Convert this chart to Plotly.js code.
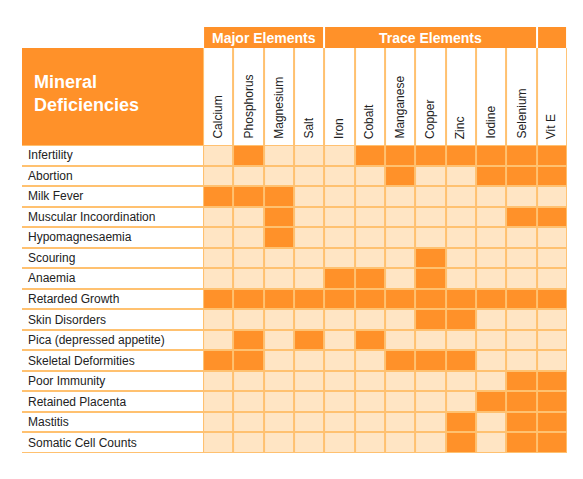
<!DOCTYPE html>
<html>
<head>
<meta charset="utf-8">
<script src="https://cdn.plot.ly/plotly-3.0.1.min.js"></script>
<style>html,body{margin:0;padding:0;background:#fff;}#chart{width:583px;height:479px;}</style>
</head>
<body>
<div id="chart"></div>
<script>
// ---- data ----
const columns = ['Calcium','Phosphorus','Magnesium','Salt','Iron','Cobalt','Manganese','Copper','Zinc','Iodine','Selenium','Vit E'];
const groups = ['Major Elements','Trace Elements',''];
const groupSpans = [4, 7, 1];
const rows = ['Infertility','Abortion','Milk Fever','Muscular Incoordination','Hypomagnesaemia','Scouring','Anaemia','Retarded Growth','Skin Disorders','Pica (depressed appetite)','Skeletal Deformities','Poor Immunity','Retained Placenta','Mastitis','Somatic Cell Counts'];
const title = 'Mineral<br>Deficiencies';
const infertility        = [0,1,0,0,0,1,1,1,1,1,1,1];
const abortion           = [0,0,0,0,0,0,1,0,0,1,1,1];
const milkFever          = [1,1,1,0,0,0,0,0,0,0,0,0];
const muscularIncoord    = [0,0,1,0,0,0,0,0,0,0,1,1];
const hypomagnesaemia    = [0,0,1,0,0,0,0,0,0,0,0,0];
const scouring           = [0,0,0,0,0,0,0,1,0,0,0,0];
const anaemia            = [0,0,0,0,1,1,0,1,0,0,0,0];
const retardedGrowth     = [1,1,1,1,1,1,1,1,1,1,1,1];
const skinDisorders      = [0,0,0,0,0,0,0,1,1,0,0,0];
const pica               = [0,1,0,1,0,1,0,0,0,0,0,0];
const skeletalDeform     = [1,1,0,0,0,0,1,1,1,0,0,0];
const poorImmunity       = [0,0,0,0,0,0,0,0,0,0,1,1];
const retainedPlacenta   = [0,0,0,0,0,0,0,0,0,1,1,1];
const mastitis           = [0,0,0,0,0,0,0,0,1,0,1,1];
const somaticCellCounts  = [0,0,0,0,0,0,0,0,1,0,1,1];
const matrix = [infertility,abortion,milkFever,muscularIncoord,hypomagnesaemia,scouring,anaemia,retardedGrowth,skinDisorders,pica,skeletalDeform,poorImmunity,retainedPlacenta,mastitis,somaticCellCounts];

// ---- styling ----
const ORANGE = '#FF9129', LIGHT = '#FFE5C4', BORDER = '#FFC170', WHITE = '#FFFFFF';
const FONT = 'Liberation Sans, Arial, sans-serif';
const nC = columns.length, nR = rows.length;
const LABEL_L = -6.47;            // left edge of label column (x units)
const HEAD_TOP = -5.224;          // top of rotated header cells (y units)
const BAND_TOP = -6.247;          // top of group band (y units)

const colEdges = Array.from({length: nC + 1}, (_, i) => i - 0.5);
const rowEdges = Array.from({length: nR + 1}, (_, i) => i - 0.5);
const flat = c => [[0, c], [1, c]];

let gEdges = [-0.5];
groupSpans.forEach(s => gEdges.push(gEdges[gEdges.length - 1] + s));

const base = {type: 'heatmap', showscale: false, hoverinfo: 'skip', zmin: 0, zmax: 1};
const traces = [
  // border underlay
  Object.assign({}, base, {x: [LABEL_L, nC - 0.5], y: [HEAD_TOP, nR - 0.5], z: [[1]], colorscale: flat(BORDER)}),
  // label column cells
  Object.assign({}, base, {x: [LABEL_L, -0.5], y: rowEdges, z: rows.map(() => [0]), colorscale: flat(WHITE), xgap: 0, ygap: 2}),
  // title box
  Object.assign({}, base, {x: [LABEL_L, -0.5], y: [HEAD_TOP, -0.5], z: [[1]], colorscale: flat(ORANGE)}),
  // header cells (rotated labels)
  Object.assign({}, base, {x: colEdges, y: [HEAD_TOP, -0.5], z: [columns.map(() => 0)], colorscale: flat(WHITE), xgap: 2, ygap: 0}),
  // group band
  Object.assign({}, base, {x: gEdges, y: [BAND_TOP, HEAD_TOP], z: [groups.map(() => 1)], colorscale: flat(ORANGE), xgap: 2, ygap: 0}),
  // main grid
  Object.assign({}, base, {x: colEdges, y: rowEdges, z: matrix, colorscale: [[0, LIGHT], [1, ORANGE]], xgap: 2, ygap: 2})
];

const annotations = [];
rows.forEach((r, i) => annotations.push({x: LABEL_L + 0.13, y: i, xref: 'x', yref: 'y', text: r, showarrow: false,
  xanchor: 'left', yanchor: 'middle', font: {family: FONT, size: 12, color: '#222'}}));
columns.forEach((c, i) => annotations.push({x: i, y: -0.7, xref: 'x', yref: 'y', text: c, showarrow: false, textangle: -90,
  xanchor: 'center', yanchor: 'bottom', font: {family: FONT, size: 12, color: '#222'}}));
groups.forEach((g, i) => { if (g) annotations.push({x: (gEdges[i] + gEdges[i + 1]) / 2, y: (BAND_TOP + HEAD_TOP) / 2, xref: 'x', yref: 'y',
  text: '<b>' + g + '</b>', showarrow: false, xanchor: 'center', yanchor: 'middle', font: {family: FONT, size: 14, color: WHITE}}); });
annotations.push({x: LABEL_L + 0.33, y: -3.03, xref: 'x', yref: 'y', text: '<b>' + title + '</b>', showarrow: false,
  xanchor: 'left', yanchor: 'middle', align: 'left', font: {family: FONT, size: 18, color: WHITE}});

const layout = {
  width: 583, height: 479,
  margin: {l: 22, r: 16, t: 27, b: 26, pad: 0},
  paper_bgcolor: WHITE, plot_bgcolor: WHITE,
  xaxis: {range: [LABEL_L, nC - 0.5], visible: false, showgrid: false, zeroline: false, fixedrange: true},
  yaxis: {range: [nR - 0.5, BAND_TOP], visible: false, showgrid: false, zeroline: false, fixedrange: true},
  annotations: annotations,
  showlegend: false
};
Plotly.newPlot('chart', traces, layout, {displayModeBar: false, staticPlot: true});
</script>
</body>
</html>
